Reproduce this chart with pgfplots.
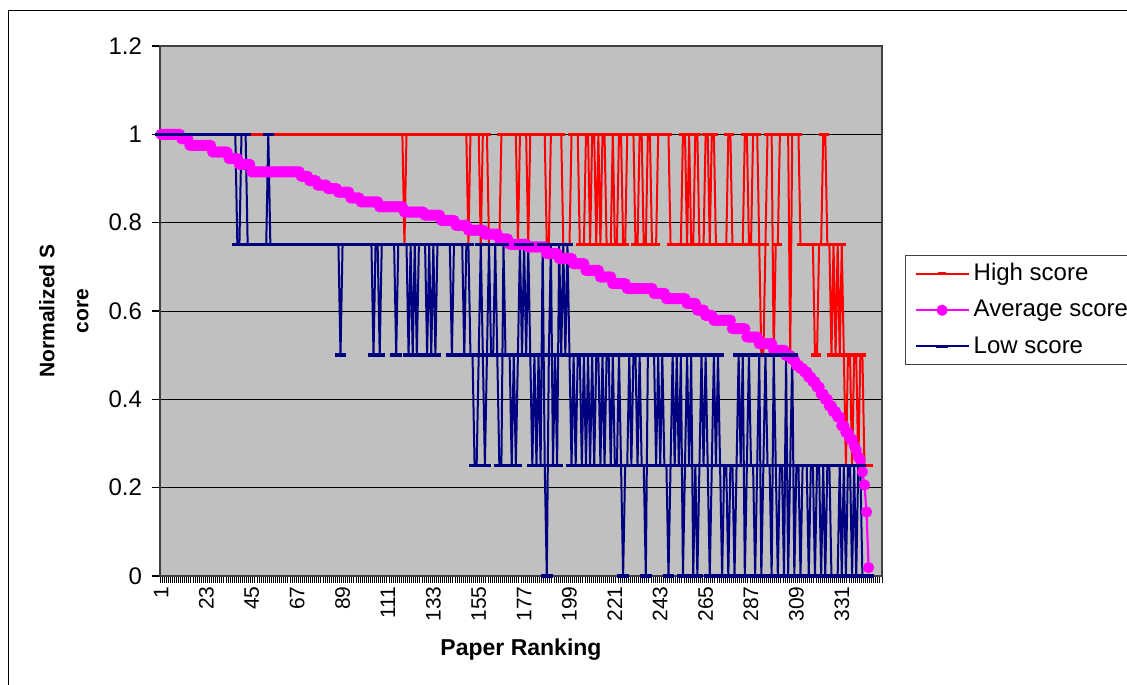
\documentclass[border=0pt]{standalone}
\usepackage{pgfplots}
\pgfplotsset{compat=1.18}
\usepackage{pgfplotstable}
\usepackage{fontspec}
\setmainfont{Liberation Sans}

\definecolor{plotgray}{RGB}{192,192,192}
\definecolor{hired}{RGB}{255,0,0}
\definecolor{avgmag}{RGB}{255,0,255}
\definecolor{lownavy}{RGB}{0,0,128}

% i = paper rank, h = high score, a = average score, l = low score
\pgfplotstableread{
i h a l
1 1 1 1
2 1 1 1
3 1 1 1
4 1 1 1
5 1 1 1
6 1 1 1
7 1 1 1
8 1 1 1
9 1 1 1
10 1 1 1
11 1 0.99 1
12 1 0.99 1
13 1 0.99 1
14 1 0.99 1
15 1 0.975 1
16 1 0.975 1
17 1 0.975 1
18 1 0.975 1
19 1 0.975 1
20 1 0.975 1
21 1 0.975 1
22 1 0.975 1
23 1 0.975 1
24 1 0.975 1
25 1 0.975 1
26 1 0.96 1
27 1 0.96 1
28 1 0.96 1
29 1 0.96 1
30 1 0.96 1
31 1 0.96 1
32 1 0.96 1
33 1 0.96 1
34 1 0.945 1
35 1 0.945 1
36 1 0.945 1
37 1 0.945 1
38 1 0.945 0.75
39 1 0.932 0.75
40 1 0.932 1
41 1 0.932 1
42 1 0.932 1
43 1 0.932 0.75
44 1 0.932 0.75
45 1 0.915 0.75
46 1 0.915 0.75
47 1 0.915 0.75
48 1 0.915 0.75
49 1 0.915 0.75
50 1 0.915 0.75
51 1 0.915 0.75
52 1 0.915 0.75
53 1 0.915 1
54 1 0.915 0.75
55 1 0.915 0.75
56 1 0.915 0.75
57 1 0.915 0.75
58 1 0.915 0.75
59 1 0.915 0.75
60 1 0.915 0.75
61 1 0.915 0.75
62 1 0.915 0.75
63 1 0.915 0.75
64 1 0.915 0.75
65 1 0.915 0.75
66 1 0.915 0.75
67 1 0.915 0.75
68 1 0.915 0.75
69 1 0.905 0.75
70 1 0.905 0.75
71 1 0.905 0.75
72 1 0.905 0.75
73 1 0.895 0.75
74 1 0.895 0.75
75 1 0.895 0.75
76 1 0.895 0.75
77 1 0.885 0.75
78 1 0.885 0.75
79 1 0.885 0.75
80 1 0.885 0.75
81 1 0.885 0.75
82 1 0.877 0.75
83 1 0.877 0.75
84 1 0.877 0.75
85 1 0.877 0.75
86 1 0.877 0.75
87 1 0.869 0.75
88 1 0.869 0.5
89 1 0.869 0.75
90 1 0.869 0.75
91 1 0.869 0.75
92 1 0.869 0.75
93 1 0.856 0.75
94 1 0.856 0.75
95 1 0.856 0.75
96 1 0.856 0.75
97 1 0.856 0.75
98 1 0.847 0.75
99 1 0.847 0.75
100 1 0.847 0.75
101 1 0.847 0.75
102 1 0.847 0.75
103 1 0.847 0.75
104 1 0.847 0.5
105 1 0.847 0.75
106 1 0.847 0.75
107 1 0.836 0.5
108 1 0.836 0.75
109 1 0.836 0.75
110 1 0.836 0.75
111 1 0.836 0.75
112 1 0.836 0.75
113 1 0.836 0.75
114 1 0.836 0.75
115 1 0.836 0.5
116 1 0.836 0.75
117 1 0.836 0.75
118 1 0.836 0.75
119 0.75 0.824 0.75
120 1 0.824 0.75
121 1 0.824 0.5
122 1 0.824 0.75
123 1 0.824 0.5
124 1 0.824 0.75
125 1 0.824 0.5
126 1 0.824 0.75
127 1 0.824 0.75
128 1 0.824 0.75
129 1 0.817 0.75
130 1 0.817 0.5
131 1 0.817 0.75
132 1 0.817 0.5
133 1 0.817 0.75
134 1 0.817 0.5
135 1 0.817 0.75
136 1 0.817 0.75
137 1 0.805 0.75
138 1 0.805 0.75
139 1 0.805 0.75
140 1 0.805 0.75
141 1 0.805 0.75
142 1 0.805 0.5
143 1 0.805 0.75
144 1 0.794 0.75
145 1 0.794 0.75
146 1 0.794 0.75
147 1 0.794 0.75
148 1 0.794 0.5
149 1 0.794 0.75
150 0.75 0.783 0.75
151 1 0.783 0.5
152 1 0.783 0.5
153 1 0.783 0.25
154 1 0.783 0.25
155 1 0.783 0.5
156 0.75 0.783 0.75
157 1 0.783 0.5
158 1 0.774 0.25
159 1 0.774 0.5
160 0.75 0.774 0.75
161 0.75 0.774 0.5
162 0.75 0.774 0.5
163 0.75 0.774 0.75
164 0.75 0.774 0.5
165 0.75 0.763 0.25
166 1 0.763 0.25
167 1 0.763 0.75
168 1 0.763 0.5
169 1 0.763 0.5
170 1 0.751 0.5
171 1 0.751 0.25
172 1 0.751 0.5
173 1 0.751 0.25
174 0.75 0.751 0.5
175 1 0.751 0.75
176 1 0.751 0.5
177 1 0.751 0.75
178 1 0.751 0.5
179 0.75 0.745 0.75
180 1 0.745 0.5
181 1 0.745 0.25
182 1 0.745 0.5
183 1 0.745 0.25
184 1 0.745 0.5
185 1 0.745 0.25
186 1 0.745 0.75
187 1 0.745 0.25
188 0.75 0.73 0
189 0.75 0.73 0.5
190 1 0.73 0.75
191 1 0.73 0.25
192 1 0.73 0.5
193 1 0.73 0.25
194 1 0.719 0.75
195 1 0.719 0.5
196 0.75 0.719 0.75
197 0.75 0.719 0.5
198 0.75 0.719 0.75
199 0.75 0.719 0.5
200 1 0.719 0.25
201 1 0.707 0.5
202 1 0.707 0.25
203 1 0.707 0.5
204 0.75 0.707 0.5
205 0.75 0.707 0.25
206 0.75 0.707 0.5
207 1 0.692 0.25
208 1 0.692 0.5
209 0.75 0.692 0.25
210 1 0.692 0.5
211 1 0.692 0.25
212 0.75 0.692 0.5
213 1 0.692 0.5
214 0.75 0.677 0.25
215 1 0.677 0.5
216 1 0.677 0.25
217 0.75 0.677 0.5
218 0.75 0.677 0.5
219 0.75 0.677 0.25
220 1 0.662 0.5
221 0.75 0.662 0.25
222 0.75 0.662 0.25
223 1 0.662 0.5
224 1 0.662 0.25
225 0.75 0.662 0
226 0.75 0.662 0.25
227 1 0.651 0.25
228 1 0.651 0.5
229 1 0.651 0.25
230 1 0.651 0.5
231 0.75 0.651 0.5
232 0.75 0.651 0.25
233 1 0.651 0.5
234 1 0.651 0.25
235 0.75 0.651 0.25
236 0.75 0.651 0
237 1 0.651 0.5
238 1 0.651 0.5
239 0.75 0.651 0.5
240 0.75 0.64 0.5
241 0.75 0.64 0.25
242 1 0.64 0.5
243 1 0.64 0.25
244 1 0.64 0.5
245 1 0.64 0.25
246 1 0.628 0.25
247 1 0.628 0
248 0.75 0.628 0.25
249 0.75 0.628 0.5
250 0.75 0.628 0.25
251 0.75 0.628 0.5
252 0.75 0.628 0.25
253 0.75 0.628 0.5
254 1 0.628 0
255 1 0.628 0.25
256 0.75 0.617 0.5
257 1 0.617 0.25
258 0.75 0.617 0.5
259 0.75 0.617 0
260 1 0.617 0.25
261 1 0.602 0
262 0.75 0.602 0.25
263 0.75 0.602 0.5
264 0.75 0.602 0.25
265 1 0.59 0.5
266 1 0.59 0.25
267 0.75 0.59 0
268 1 0.59 0.25
269 1 0.579 0.5
270 0.75 0.579 0.25
271 0.75 0.579 0.5
272 0.75 0.579 0.25
273 0.75 0.579 0
274 0.75 0.579 0.25
275 0.75 0.579 0.25
276 1 0.579 0
277 1 0.579 0.25
278 0.75 0.56 0.25
279 0.75 0.56 0
280 0.75 0.56 0.25
281 0.75 0.56 0.5
282 0.75 0.56 0.25
283 0.75 0.56 0.5
284 1 0.56 0
285 1 0.541 0.25
286 0.75 0.541 0.5
287 0.75 0.541 0.25
288 1 0.541 0.25
289 1 0.541 0
290 1 0.541 0.25
291 0.75 0.526 0.5
292 0.5 0.526 0
293 0.5 0.526 0.25
294 0.75 0.526 0.5
295 1 0.526 0.25
296 1 0.526 0.25
297 1 0.526 0
298 0.5 0.511 0.5
299 0.75 0.511 0.25
300 0.75 0.511 0
301 1 0.511 0.25
302 1 0.511 0.25
303 1 0.511 0
304 1 0.499 0.5
305 1 0.499 0
306 0.5 0.499 0.25
307 1 0.49 0.5
308 1 0.49 0
309 1 0.477 0.25
310 1 0.477 0.25
311 0.75 0.47 0
312 0.75 0.47 0.25
313 0.75 0.462 0.25
314 0.75 0.462 0.25
315 0.75 0.45 0
316 0.75 0.45 0.25
317 0.75 0.44 0.25
318 0.5 0.44 0
319 0.5 0.428 0.25
320 0.75 0.428 0.25
321 0.75 0.412 0
322 1 0.412 0.25
323 1 0.4 0
324 0.75 0.4 0.25
325 0.75 0.385 0.25
326 0.5 0.385 0
327 0.75 0.372 0
328 0.5 0.372 0
329 0.75 0.36 0
330 0.5 0.36 0.25
331 0.75 0.34 0
332 0.5 0.34 0.25
333 0.25 0.325 0
334 0.5 0.325 0.25
335 0.5 0.31 0.25
336 0.25 0.31 0
337 0.5 0.295 0.25
338 0.5 0.285 0
339 0.25 0.27 0.25
340 0.5 0.262 0.25
341 0.5 0.236 0
342 0.25 0.206 0
343 0.25 0.145 0
344 0.25 0.019 0
}\scores

\begin{document}
\begin{tikzpicture}
\begin{axis}[
  name=ax,
  scale only axis,
  width=361pt, height=265pt,
  xmin=0.5, xmax=350.5,
  ymin=0, ymax=1.2,
  xtick={1,23,...,331},
  minor xtick={0.5,1.5,...,350.5},
  ytick={0,0.2,0.4,0.6,0.8,1,1.2},
  xtick pos=bottom, ytick pos=left,
  tick align=outside,
  major tick length=4pt,
  minor tick length=3.4pt,
  major x tick style={draw=none},
  minor x tick style={black, line width=0.45pt},
  y tick style={black, line width=0.6pt},
  ymajorgrids,
  grid style={black, line width=0.45pt},
  axis background/.style={fill=plotgray},
  axis line style={black!75, line width=0.7pt},
  /pgf/number format/assume math mode=true,
  yticklabel style={font=\fontsize{12}{14}\selectfont, xshift=-1.5pt},
  xticklabel style={font=\fontsize{10.5}{12}\selectfont, rotate=90, anchor=east, inner sep=1pt},
  xlabel={Paper Ranking},
  xlabel style={font=\bfseries\fontsize{11.5}{13}\selectfont, at={(axis description cs:0.5,-0.1396)}, anchor=center},
  ylabel={Normalized S\\core},
  ylabel style={font=\bfseries\fontsize{10.5}{17}\selectfont, align=center, at={(axis description cs:-0.133,0.5)}, anchor=center},
  clip=false,
  legend cell align=left,
  legend style={at={(axis description cs:1.0319,0.6057)}, anchor=north west,
    draw=black!75, line width=0.5pt, fill=white,
    font=\fontsize{12}{14}\selectfont, inner xsep=4.5pt, inner ysep=2pt, row sep=4.3pt},
  legend image code/.code={\draw[mark repeat=2,mark phase=2] plot coordinates {(0pt,0pt) (13.25pt,0pt) (26.5pt,0pt)};},
]
\addplot[color=hired, line width=1pt, mark=-, mark size=2pt, mark options={line width=1.7pt}] table[x=i,y=h]{\scores};
\addlegendentry{High score}
\addplot[color=avgmag, line width=1.1pt, mark=*, mark size=2.6pt, mark options={fill=avgmag, draw=avgmag, line width=0.4pt}] table[x=i,y=a]{\scores};
\addlegendentry{Average score\hspace*{10pt}}
\addplot[color=lownavy, line width=1pt, mark=-, mark size=2.9pt, mark options={line width=1.7pt}] table[x=i,y=l]{\scores};
\addlegendentry{Low score}
\end{axis}
\draw[black, line width=0.5pt] ([xshift=-75.5pt,yshift=-80pt]ax.south west) rectangle ([xshift=140pt,yshift=17.5pt]ax.north east);
\pgfresetboundingbox
\path[use as bounding box] ([xshift=-80pt,yshift=-54pt]ax.south west) rectangle ([xshift=122.5pt,yshift=23pt]ax.north east);
\end{tikzpicture}
\end{document}
